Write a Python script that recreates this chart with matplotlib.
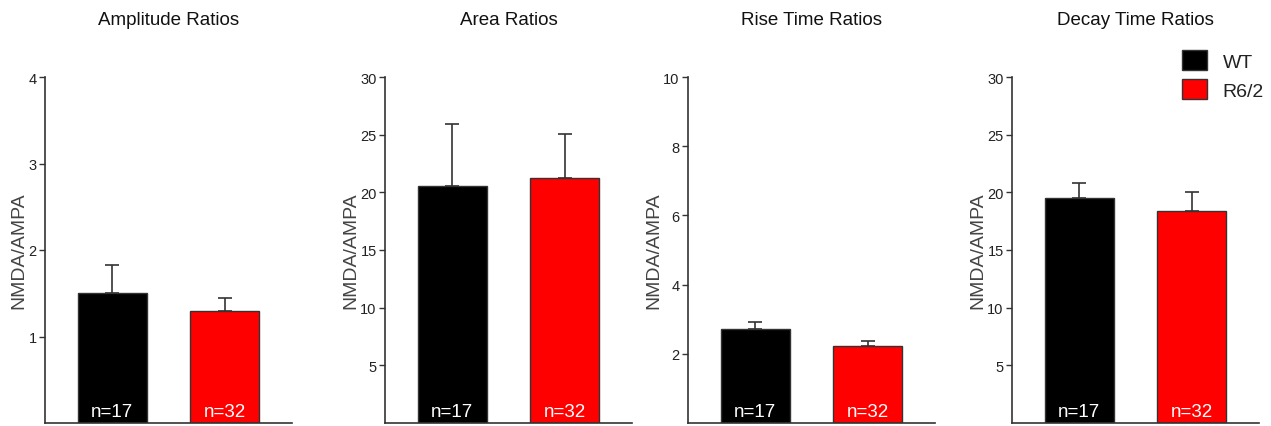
import matplotlib.pyplot as plt
import numpy as np
from matplotlib.patches import Patch

plt.rcParams.update({'font.family': ['Liberation Sans', 'DejaVu Sans']})

groups = ['WT', 'R6/2']
counts = ['n=17', 'n=32']
colors = ['#000000', '#ff0000']

titles = ['Amplitude Ratios', 'Area Ratios', 'Rise Time Ratios', 'Decay Time Ratios']
means = [[1.50, 1.29], [20.55, 21.2], [2.72, 2.23], [19.5, 18.4]]
sems = [[0.33, 0.16], [5.35, 3.9], [0.20, 0.14], [1.35, 1.6]]
yticks = [[1, 2, 3, 4], [5, 10, 15, 20, 25, 30], [2, 4, 6, 8, 10], [5, 10, 15, 20, 25, 30]]
ymax = [4, 30, 10, 30]

W, H = 1271, 427
fig = plt.figure(figsize=(W / 100, H / 100), dpi=100)

lefts = [45, 385, 688, 1012]
axw = 247
bottom_px, top_px = 424, 78

x = np.arange(2)
for i in range(4):
    ax = fig.add_axes([lefts[i] / W, (H - bottom_px) / H, axw / W, (bottom_px - top_px) / H])
    ax.bar(x, means[i], width=0.61, color=colors, edgecolor='#333333', linewidth=1.0, zorder=2)
    ax.errorbar(x, means[i], yerr=[np.zeros(2), sems[i]], fmt='none', ecolor='#333333',
                elinewidth=1.2, capsize=5, capthick=1.2, zorder=1)
    for xi, lab in zip(x, counts):
        ax.text(xi, 0.01 * ymax[i], lab, color='white', ha='center', va='bottom', fontsize=13.5, zorder=3)
    ax.set_xlim(-0.6, 1.6)
    ax.set_ylim(0, ymax[i])
    ax.set_xticks([])
    ax.set_yticks(yticks[i])
    ax.tick_params(axis='y', direction='out', length=4, width=1, color='#333333',
                   labelsize=10.5, labelcolor='#222222', pad=2)
    for s in ['top', 'right']:
        ax.spines[s].set_visible(False)
    for s in ['left', 'bottom']:
        ax.spines[s].set_color('#333333')
        ax.spines[s].set_linewidth(1.2)
    ax.set_ylabel('NMDA/AMPA', fontsize=14, color='#444444', labelpad=1)
    ax.set_title(titles[i], fontsize=13.5, pad=38, color='#111111')

# legend in the last panel
handles = [Patch(facecolor=c, edgecolor='#333333', linewidth=1) for c in colors]
fig.legend(handles, groups, loc='upper right', bbox_to_anchor=(1264 / W, 1 - 51 / H),
           frameon=False, fontsize=14, handlelength=1.3, handleheight=1.2,
           handletextpad=0.8, labelspacing=0.45, labelcolor='#222222',
           borderpad=0, borderaxespad=0)

fig.savefig('out.png', dpi=100)
